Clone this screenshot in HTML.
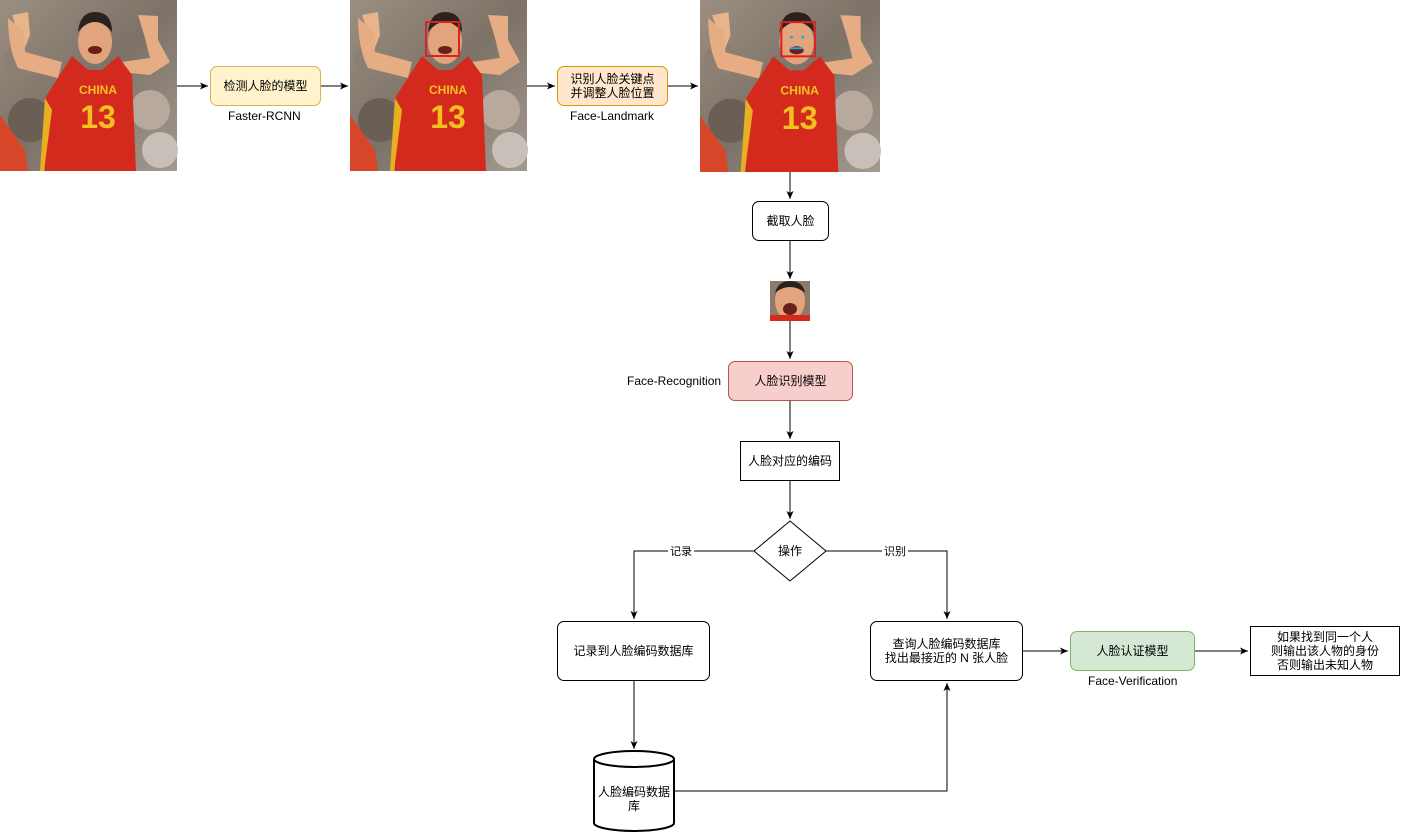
<!DOCTYPE html>
<html><head><meta charset="utf-8"><style>
body{margin:0;width:1401px;height:833px;background:#fff;position:relative;overflow:hidden;font-family:"Liberation Sans","Noto Sans CJK SC",sans-serif;font-size:12px;color:#000}
.b{position:absolute;box-sizing:border-box;border:1px solid #000;background:#fff;display:flex;align-items:center;justify-content:center;text-align:center;line-height:14px}
.r{border-radius:7px}
.l{position:absolute;font-size:12px;white-space:nowrap}
svg{position:absolute;left:0;top:0}
</style></head><body>
<svg width="1401" height="833">
<defs>
<marker id="a" markerWidth="10" markerHeight="10" refX="8" refY="5" orient="auto" markerUnits="userSpaceOnUse"><path d="M0,1.5 L8,5 L0,8.5 L2,5z" fill="#000"/></marker>
<linearGradient id="bg" x1="0" y1="0" x2="1" y2="1"><stop offset="0" stop-color="#9b8f82"/><stop offset="0.5" stop-color="#7d7267"/><stop offset="1" stop-color="#a39a8f"/></linearGradient>
<g id="p">
<rect width="177" height="171" fill="url(#bg)"/>
<circle cx="30" cy="120" r="22" fill="#6b5f55"/><circle cx="150" cy="110" r="20" fill="#b7aa9c"/><circle cx="160" cy="150" r="18" fill="#c8c0b8"/><circle cx="20" cy="60" r="16" fill="#8c8074"/>
<path d="M0,115 L25,150 L28,171 L0,171z" fill="#d8462a"/>
<path d="M12,15 L28,12 L30,35 L20,60 L55,75 L60,65 L25,55z" fill="#e8b48a"/>
<path d="M8,18 Q8,48 18,68 L58,78 L62,62 L25,52 L24,32z" fill="#e6ad84"/>
<path d="M138,15 L158,16 L158,40 L170,62 L150,75 L120,72 L122,62 L150,58 L145,38z" fill="#e6ad84"/>
<ellipse cx="95" cy="42" rx="17" ry="22" fill="#e2a47c"/>
<path d="M78,32 Q80,12 95,12 Q112,12 112,32 Q104,22 95,22 Q86,22 78,32z" fill="#2a221e"/>
<ellipse cx="95" cy="50" rx="7" ry="4" fill="#6a1f1a"/>
<path d="M45,98 L72,56 L88,70 L102,70 L118,56 L132,75 L136,171 L45,171z" fill="#d42a1e"/>
<path d="M45,98 L52,110 L44,171 L40,171z" fill="#e8b020"/>
<text x="98" y="94" fill="#f4c020" font-family="Liberation Sans" font-weight="bold" font-size="12" text-anchor="middle">CHINA</text>
<text x="98" y="128" fill="#f4c020" font-family="Liberation Sans" font-weight="bold" font-size="32" text-anchor="middle">13</text>
</g>
</defs>
<use href="#p" x="0" y="0"/>
<g transform="translate(350,0)"><use href="#p"/><rect x="76" y="22" width="33" height="34" fill="none" stroke="#e0201a" stroke-width="2"/></g>
<g transform="translate(700,0) scale(1.017,1.006)"><use href="#p"/><rect x="80" y="22" width="33" height="34" fill="none" stroke="#e0201a" stroke-width="2"/><circle cx="90" cy="37" r="1.5" fill="#2ad"/><circle cx="101" cy="37" r="1.5" fill="#2ad"/><path d="M89,48 L101,48" stroke="#2ad" stroke-width="2"/></g>
<g transform="translate(770,281)"><rect width="40" height="40" fill="#8d7a6a"/><ellipse cx="20" cy="20" rx="15" ry="19" fill="#e2a47c"/><path d="M5,12 Q8,0 20,0 Q33,0 35,12 Q28,6 20,6 Q12,6 5,12z" fill="#2a221e"/><ellipse cx="20" cy="28" rx="7" ry="6" fill="#6a1f1a"/><rect x="0" y="34" width="40" height="6" fill="#d42a1e"/></g>
<g stroke="#000" fill="none" stroke-width="1">
<path d="M177,86 L208,86" marker-end="url(#a)"/>
<path d="M321,86 L348,86" marker-end="url(#a)"/>
<path d="M527,86 L555,86" marker-end="url(#a)"/>
<path d="M668,86 L698,86" marker-end="url(#a)"/>
<path d="M790,172 L790,199" marker-end="url(#a)"/>
<path d="M790,241 L790,279" marker-end="url(#a)"/>
<path d="M790,321 L790,359" marker-end="url(#a)"/>
<path d="M790,401 L790,439" marker-end="url(#a)"/>
<path d="M790,481 L790,519" marker-end="url(#a)"/>
<path d="M754,551 L634,551 L634,619" marker-end="url(#a)"/>
<path d="M826,551 L947,551 L947,619" marker-end="url(#a)"/>
<path d="M634,681 L634,749" marker-end="url(#a)"/>
<path d="M674,791 L947,791 L947,683" marker-end="url(#a)"/>
<path d="M1023,651 L1068,651" marker-end="url(#a)"/>
<path d="M1195,651 L1248,651" marker-end="url(#a)"/>
<path d="M790,521 L826,551 L790,581 L754,551z" fill="#fff"/>
<path d="M594,759 L594,823 A40,8 0 0 0 674,823 L674,759" fill="#fff" stroke-width="2"/>
<ellipse cx="634" cy="759" rx="40" ry="8" fill="#fff" stroke-width="2"/>
</g>
<rect x="668" y="545" width="26" height="12" fill="#fff"/><text x="681" y="555" font-size="11" text-anchor="middle" font-family="Liberation Sans,Noto Sans CJK SC,sans-serif">记录</text>
<rect x="882" y="545" width="26" height="12" fill="#fff"/><text x="895" y="555" font-size="11" text-anchor="middle" font-family="Liberation Sans,Noto Sans CJK SC,sans-serif">识别</text>
<text x="790" y="555" font-size="12" text-anchor="middle" font-family="Liberation Sans,Noto Sans CJK SC,sans-serif">操作</text>
<text x="634" y="796" font-size="12" text-anchor="middle" font-family="Liberation Sans,Noto Sans CJK SC,sans-serif">人脸编码数据</text>
<text x="634" y="810" font-size="12" text-anchor="middle" font-family="Liberation Sans,Noto Sans CJK SC,sans-serif">库</text>
</svg>
<div class="b r" style="left:210px;top:66px;width:111px;height:40px;background:#fff2cc;border-color:#d6b656">检测人脸的模型</div>
<div class="l" style="left:228px;top:109px">Faster-RCNN</div>
<div class="b r" style="left:557px;top:66px;width:111px;height:40px;background:#ffe6cc;border-color:#d79b00">识别人脸关键点<br>并调整人脸位置</div>
<div class="l" style="left:570px;top:109px">Face-Landmark</div>
<div class="b r" style="left:752px;top:201px;width:77px;height:40px">截取人脸</div>
<div class="b r" style="left:728px;top:361px;width:125px;height:40px;background:#f8cecc;border-color:#b85450">人脸识别模型</div>
<div class="l" style="left:627px;top:374px">Face-Recognition</div>
<div class="b" style="left:740px;top:441px;width:100px;height:40px">人脸对应的编码</div>
<div class="b r" style="left:557px;top:621px;width:153px;height:60px">记录到人脸编码数据库</div>
<div class="b r" style="left:870px;top:621px;width:153px;height:60px">查询人脸编码数据库<br>找出最接近的 N 张人脸</div>
<div class="b r" style="left:1070px;top:631px;width:125px;height:40px;background:#d5e8d4;border-color:#82b366">人脸认证模型</div>
<div class="l" style="left:1088px;top:674px">Face-Verification</div>
<div class="b" style="left:1250px;top:626px;width:150px;height:50px">如果找到同一个人<br>则输出该人物的身份<br>否则输出未知人物</div>
</body></html>
